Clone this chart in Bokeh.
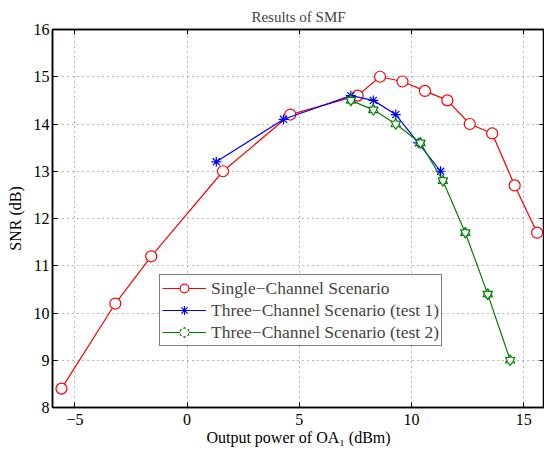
from bokeh.plotting import figure
from bokeh.models import (Range1d, Legend, LegendItem, FixedTicker, CustomJSTickFormatter,
                          LinearAxis)
from bokeh.embed import file_html
from bokeh.resources import INLINE

# ---- data ----
single_x = [-5.6, -3.2, -1.6, 1.6, 4.6, 7.6, 8.6, 9.6, 10.6, 11.6, 12.6, 13.6, 14.6, 15.6]
single_y = [8.4, 10.2, 11.2, 13.0, 14.2, 14.6, 15.0, 14.9, 14.7, 14.5, 14.0, 13.8, 12.7, 11.7]
test1_x = [1.3, 4.3, 7.3, 8.3, 9.3, 10.3, 11.3]
test1_y = [13.2, 14.1, 14.6, 14.5, 14.2, 13.6, 13.0]
test2_x = [7.3, 8.3, 9.3, 10.4, 11.4, 12.4, 13.4, 14.4]
test2_y = [14.5, 14.3, 14.0, 13.6, 12.8, 11.7, 10.4, 9.0]
x_ticks = [-5, 0, 5, 10, 15]
y_ticks = [8, 9, 10, 11, 12, 13, 14, 15, 16]
labels = ["Single\u2212Channel Scenario",
          "Three\u2212Channel Scenario (test 1)",
          "Three\u2212Channel Scenario (test 2)"]

FONT = "'Liberation Serif', 'Times New Roman', serif"

p = figure(width=544, height=450, output_backend="svg", toolbar_location=None,
           x_range=Range1d(-6, 15.93), y_range=Range1d(8, 16),
           title="Results of SMF")
p.min_border_left = 52
p.min_border_right = 0
p.min_border_top = 29
p.min_border_bottom = 43

p.title.text_font = FONT
p.title.text_font_size = "15px"
p.title.text_font_style = "normal"
p.title.align = "center"
p.title.standoff = 9

p.outline_line_color = "black"
p.outline_line_width = 1.5
p.outline_line_alpha = 1.0

for ax in (p.xaxis[0], p.yaxis[0]):
    ax.major_label_text_font = FONT
    ax.major_label_text_font_size = "16px"
    ax.major_label_text_color = "black"
    ax.axis_label_text_font = FONT
    ax.axis_label_text_font_size = "16px"
    ax.axis_label_text_font_style = "normal"
    ax.axis_label_text_color = "black"
    ax.axis_line_color = "black"
    ax.axis_line_width = 1.5
    ax.major_tick_in = 5
    ax.major_tick_out = 0
    ax.major_tick_line_color = "black"
    ax.minor_tick_line_color = None
    ax.formatter = CustomJSTickFormatter(
        code="return tick < 0 ? '\\u2212' + Math.abs(tick) : String(tick);")

p.xaxis[0].ticker = FixedTicker(ticks=x_ticks)
p.yaxis[0].ticker = FixedTicker(ticks=y_ticks)
p.xaxis[0].axis_label = "Output power of OA\u2081 (dBm)"
p.yaxis[0].axis_label = "SNR (dB)"
p.xaxis[0].major_label_standoff = 6
p.xaxis[0].axis_label_standoff = 1
p.yaxis[0].major_label_standoff = 3
p.yaxis[0].axis_label_standoff = 7

# box ticks on top and right (no labels)
blank = CustomJSTickFormatter(code="return '';")
top_ax = LinearAxis(ticker=FixedTicker(ticks=x_ticks), major_tick_in=5, major_tick_out=0,
                    minor_tick_line_color=None, formatter=blank,
                    major_label_standoff=0, axis_line_color="black", axis_line_width=1.5,
                    major_tick_line_color="black")
right_ax = LinearAxis(ticker=FixedTicker(ticks=y_ticks), major_tick_in=5, major_tick_out=0,
                      minor_tick_line_color=None, formatter=blank,
                      major_label_standoff=0, axis_line_color="black", axis_line_width=1.5,
                      major_tick_line_color="black")
p.add_layout(top_ax, "above")
p.add_layout(right_ax, "right")

for g in (p.xgrid[0], p.ygrid[0]):
    g.grid_line_color = "black"
    g.grid_line_alpha = 0.55
    g.grid_line_dash = "1 4"
    g.grid_line_width = 1
p.xgrid[0].ticker = FixedTicker(ticks=x_ticks)
p.ygrid[0].ticker = FixedTicker(ticks=y_ticks)

RED, BLUE, GREEN = "#ff0000", "#0000ff", "#008000"

r1l = p.line(single_x, single_y, line_color=RED, line_width=1.2)
r1m = p.scatter(single_x, single_y, marker="circle", size=11, line_color=RED,
                fill_color="white", line_width=1.2)

r2l = p.line(test1_x, test1_y, line_color=BLUE, line_width=1.2)
r2m = p.scatter(test1_x, test1_y, marker="asterisk", size=10, line_color=BLUE,
                line_width=1.2)

r3l = p.line(test2_x, test2_y, line_color=GREEN, line_width=1.2)
r3a = p.scatter(test2_x, test2_y, marker="triangle", size=9.5, line_color=GREEN,
                fill_color="white", line_width=1.2)
r3b = p.scatter(test2_x, test2_y, marker="inverted_triangle", size=9.5, line_color=GREEN,
                fill_color="white", line_width=1.2)
r3c = p.scatter(test2_x, test2_y, marker="hex", size=5.5, line_color=None,
                fill_color="white")

legend = Legend(items=[
    LegendItem(label=labels[0], renderers=[r1l, r1m]),
    LegendItem(label=labels[1], renderers=[r2l, r2m]),
    LegendItem(label=labels[2], renderers=[r3l, r3a, r3b, r3c]),
], location=(107, 61), margin=0, padding=2, spacing=0,
    glyph_width=44, glyph_height=22, label_height=22, label_standoff=5,
    label_text_font=FONT, label_text_font_size="17.5px",
    border_line_color="black", border_line_width=1.2,
    background_fill_color="white", background_fill_alpha=1.0)
p.add_layout(legend)

open("out.html", "w").write(file_html(p, INLINE))
